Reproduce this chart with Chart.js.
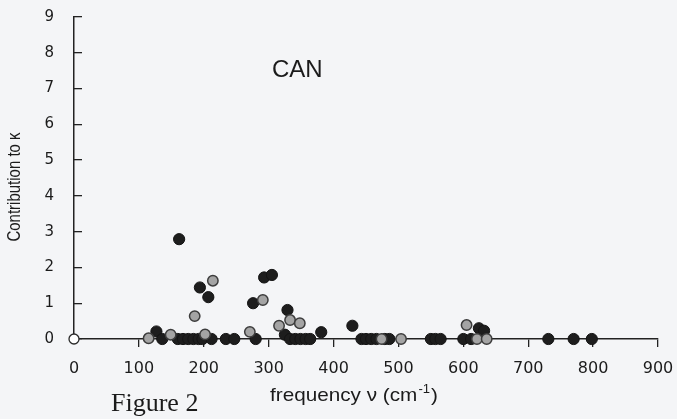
<!DOCTYPE html>
<html>
<head>
<meta charset="utf-8">
<script src="https://cdn.jsdelivr.net/npm/chart.js@4.4.1/dist/chart.umd.min.js"></script>
<style>
html,body{margin:0;padding:0;background:#f4f5f7;}
canvas{display:block;}
</style>
</head>
<body>
<canvas id="c" width="677" height="419"></canvas>
<script>
// ---- data ----
const xTicks = [0, 100, 200, 300, 400, 500, 600, 700, 800, 900];
const yTicks = [0, 1, 2, 3, 4, 5, 6, 7, 8, 9];

// dark (filled black) points: frequency (cm^-1) and contribution to kappa
const darkFreq = [127, 136, 160, 168, 176, 184, 192, 198, 162, 194, 207, 212, 234, 247, 276, 280, 293, 305,
                  325, 329, 333, 341, 349, 357, 364, 381, 429, 443, 450, 458, 466, 479, 486, 550, 557, 565,
                  600, 612, 624, 632, 731, 770, 798];
const darkContrib = [0.21, 0, 0, 0, 0, 0, 0, 0, 2.79, 1.44, 1.17, 0, 0, 0, 1.0, 0, 1.72, 1.79,
                     0.12, 0.81, 0, 0, 0, 0, 0, 0.19, 0.37, 0, 0, 0, 0, 0, 0, 0, 0, 0,
                     0, 0, 0.3, 0.23, 0, 0, 0];

// grey (hatched) points
const greyFreq = [115, 149, 186, 202, 214, 271, 291, 316, 333, 348, 474, 504, 605, 621, 636];
const greyContrib = [0.02, 0.12, 0.64, 0.13, 1.63, 0.2, 1.09, 0.37, 0.53, 0.44, 0, 0, 0.39, 0, 0];

// open point at the origin
const openFreq = [0];
const openContrib = [0];

const panelLabel = 'CAN';
const yTitle = 'Contribution to \u03BA';
const xTitleMain = 'frequency \u03BD (cm';
const xTitleSup = '-1';
const xTitleEnd = ')';
const figureCaption = 'Figure 2';

function toPoints(xs, ys) { return xs.map((x, i) => ({ x: x, y: ys[i] })); }

const INK = '#1b1b1b';

const bgPlugin = {
  id: 'bg',
  beforeDraw(chart) {
    const ctx = chart.ctx;
    ctx.save();
    ctx.fillStyle = '#f4f5f7';
    ctx.fillRect(0, 0, chart.width, chart.height);
    ctx.restore();
  }
};

const textPlugin = {
  id: 'texts',
  afterDraw(chart) {
    const ctx = chart.ctx;
    ctx.save();
    ctx.fillStyle = INK;
    ctx.textBaseline = 'alphabetic';
    ctx.textAlign = 'left';
    // panel label
    ctx.font = '24px "Liberation Sans", Arial, sans-serif';
    ctx.fillText(panelLabel, 272, 77);
    // caption
    ctx.font = '26px "Liberation Serif", "Times New Roman", serif';
    ctx.fillText(figureCaption, 111, 411);
    // x title (slightly widened like the scanned original)
    const fMain = '19px "Liberation Sans", Arial, sans-serif';
    const fSup = '12px "Liberation Sans", Arial, sans-serif';
    ctx.font = fMain;
    const w1 = ctx.measureText(xTitleMain).width;
    const w3 = ctx.measureText(xTitleEnd).width;
    ctx.font = fSup;
    const w2 = ctx.measureText(xTitleSup).width;
    const total = w1 + w2 + w3 + 2;
    const sx = 168 / total;
    ctx.save();
    ctx.translate(270, 401);
    ctx.scale(sx, 1);
    let x = 0;
    ctx.font = fMain;
    ctx.fillText(xTitleMain, x, 0);
    x += w1 + 1;
    ctx.font = fSup;
    ctx.fillText(xTitleSup, x, -8);
    x += w2 + 1;
    ctx.font = fMain;
    ctx.fillText(xTitleEnd, x, 0);
    ctx.restore();
    // y title (rotated, glyphs widened across the page like the scan)
    ctx.translate(15, 187);
    ctx.rotate(-Math.PI / 2);
    ctx.scale(1, 1.25);
    ctx.textAlign = 'center';
    ctx.textBaseline = 'middle';
    ctx.font = '15px "Liberation Sans", Arial, sans-serif';
    ctx.fillText(yTitle, 0, 0);
    ctx.restore();
  }
};

new Chart(document.getElementById('c'), {
  type: 'scatter',
  data: {
    datasets: [
      {
        label: 'origin',
        data: toPoints(openFreq, openContrib),
        pointRadius: 5,
        pointBackgroundColor: '#ffffff',
        pointBorderColor: '#2a2a2a',
        pointBorderWidth: 1.3,
        clip: false
      },
      {
        label: 'grey',
        data: toPoints(greyFreq, greyContrib),
        pointRadius: 5.2,
        pointBackgroundColor: '#a4a4a4',
        pointBorderColor: '#3c3c3c',
        pointBorderWidth: 1.5,
        clip: false
      },
      {
        label: 'dark',
        data: toPoints(darkFreq, darkContrib),
        pointRadius: 5.6,
        pointBackgroundColor: '#1d1d1d',
        pointBorderColor: '#141414',
        pointBorderWidth: 1,
        clip: false
      }
    ]
  },
  options: {
    responsive: false,
    animation: false,
    devicePixelRatio: 1,
    events: [],
    layout: { padding: { left: 0, right: 19, top: 17, bottom: 0 } },
    plugins: { legend: { display: false }, tooltip: { enabled: false } },
    scales: {
      x: {
        type: 'linear',
        position: 'bottom',
        min: xTicks[0],
        max: xTicks[xTicks.length - 1],
        afterBuildTicks(scale) { scale.ticks = xTicks.map(v => ({ value: v })); },
        afterFit(scale) { scale.height = 80; scale.paddingLeft = 0; scale.paddingRight = 0; },
        ticks: {
          font: { family: '"DejaVu Sans", sans-serif', size: 16 },
          color: INK,
          padding: 12,
          maxRotation: 0,
          autoSkip: false
        },
        grid: {
          drawOnChartArea: false,
          drawTicks: true,
          tickLength: 8,
          lineWidth: 1.3,
          color: (c) => (c.tick && c.tick.value === 0 ? 'rgba(0,0,0,0)' : '#222')
        },
        border: { display: true, color: '#222', width: 1.5 }
      },
      y: {
        type: 'linear',
        position: 'left',
        min: yTicks[0],
        max: yTicks[yTicks.length - 1],
        afterBuildTicks(scale) { scale.ticks = yTicks.map(v => ({ value: v })); },
        afterFit(scale) { scale.width = 74; scale.paddingTop = 0; scale.paddingBottom = 0; },
        ticks: {
          font: { family: '"DejaVu Sans", sans-serif', size: 15 },
          color: INK,
          padding: 28,
          autoSkip: false
        },
        grid: {
          drawOnChartArea: false,
          drawTicks: true,
          tickLength: -8,
          lineWidth: 1.3,
          color: '#222'
        },
        border: { display: true, color: '#222', width: 1.5 }
      }
    }
  },
  plugins: [bgPlugin, textPlugin]
});
</script>
</body>
</html>
